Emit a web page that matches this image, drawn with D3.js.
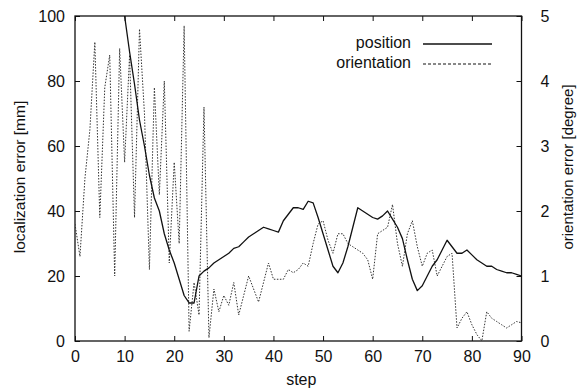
<!DOCTYPE html>
<html>
<head>
<meta charset="utf-8">
<script src="https://cdn.jsdelivr.net/npm/d3@7/dist/d3.min.js"></script>
<style>
  html, body { margin: 0; padding: 0; background: #fff; }
  svg { display: block; font-family: "Liberation Sans", Arial, sans-serif; }
</style>
</head>
<body>
<svg id="chart" width="581" height="392"></svg>
<script>
// Localization error per step: position [mm] on the left axis,
// orientation [degree] on the right axis.
const positionStart = 10; // first step with a position sample inside the plot
const positionError = [
  100, 89, 79, 68, 60, 51, 44, 40, 33, 28,
  24, 19, 14, 11.7, 11.7, 20, 21.5, 22.5, 24, 25,
  26, 27, 28.5, 29, 30.5, 32, 33, 34, 35, 34.5,
  34, 33.5, 37, 39, 41, 41, 40.5, 43, 42.5, 38,
  33, 28, 23, 21, 24, 29, 35, 41, 40, 39,
  38, 37.5, 38.5, 40, 37.5, 35, 31.5, 25, 19, 15.5,
  17, 20, 23, 25, 28, 31, 29, 27, 27, 28,
  26.5, 25, 24, 23, 23, 22, 21.5, 21, 21, 20.5,
  20
];
const orientationError = [
  1.8, 1.3, 2.5, 3.25, 4.6, 1.9, 3.9, 4.4, 1.0, 4.5,
  2.75, 4.4, 1.9, 4.8, 3.5, 1.1, 3.9, 2.25, 4.0, 1.2,
  2.75, 1.5, 4.85, 0.15, 0.9, 0.4, 3.6, 0.05, 0.8, 0.45,
  0.7, 0.55, 0.9, 0.4, 0.7, 1.0, 0.8, 0.6, 0.9, 1.2,
  0.95, 0.95, 0.95, 1.1, 1.05, 1.1, 1.2, 1.15, 1.5, 1.8,
  1.85, 1.55, 1.35, 1.65, 1.65, 1.5, 1.45, 1.4, 1.35, 1.25,
  0.95, 1.65, 1.7, 1.75, 2.1, 1.5, 1.15, 1.65, 1.85, 1.45,
  1.15, 1.35, 1.4, 1.0, 1.15, 1.3, 1.35, 0.2, 0.35, 0.45,
  0.25, 0.1, 0, 0.45, 0.35, 0.3, 0.25, 0.2, 0.25, 0.3,
  0.28
];
const stepTicks = [0, 10, 20, 30, 40, 50, 60, 70, 80, 90];
const mmTicks = [0, 20, 40, 60, 80, 100];
const degreeTicks = [0, 1, 2, 3, 4, 5];
const seriesNames = ["position", "orientation"];

const svg = d3.select("#chart");
const plotLeft = 75, plotRight = 521.5, plotTop = 16, plotBottom = 341;
const ink = "#111";

const x = d3.scaleLinear().domain([0, 90]).range([plotLeft, plotRight]);
const yMm = d3.scaleLinear().domain([0, 100]).range([plotBottom, plotTop]);
const yDeg = d3.scaleLinear().domain([0, 5]).range([plotBottom, plotTop]);

svg.append("defs").append("clipPath").attr("id", "plot-clip")
  .append("rect").attr("x", plotLeft).attr("y", plotTop)
  .attr("width", plotRight - plotLeft).attr("height", plotBottom - plotTop);

// Axes with inward ticks on all four sides
const tickLen = 5;
const fs = "16px";

const gB = svg.append("g").attr("transform", `translate(0,${plotBottom})`)
  .call(d3.axisBottom(x).tickValues(stepTicks).tickFormat(d3.format("d"))
    .tickSizeInner(-tickLen).tickSizeOuter(0).tickPadding(10));
const gT = svg.append("g").attr("transform", `translate(0,${plotTop})`)
  .call(d3.axisTop(x).tickValues(stepTicks).tickSizeInner(-tickLen).tickSizeOuter(0).tickFormat(""));
const gL = svg.append("g").attr("transform", `translate(${plotLeft},0)`)
  .call(d3.axisLeft(yMm).tickValues(mmTicks).tickFormat(d3.format("d"))
    .tickSizeInner(-tickLen).tickSizeOuter(0).tickPadding(10));
const gR = svg.append("g").attr("transform", `translate(${plotRight},0)`)
  .call(d3.axisRight(yDeg).tickValues(degreeTicks).tickFormat(d3.format("d"))
    .tickSizeInner(-tickLen).tickSizeOuter(0).tickPadding(19));

[gB, gT, gL, gR].forEach(g => {
  g.select(".domain").remove();
  g.selectAll("line").attr("stroke", ink).attr("stroke-width", 1);
  g.selectAll("text").attr("fill", ink).style("font-size", fs)
    .style("font-family", '"Liberation Sans", Arial, sans-serif');
});

// Frame
svg.append("rect").attr("x", plotLeft).attr("y", plotTop)
  .attr("width", plotRight - plotLeft).attr("height", plotBottom - plotTop)
  .attr("fill", "none").attr("stroke", ink).attr("stroke-width", 1.3);

// Axis titles
svg.append("text").attr("x", (plotLeft + plotRight) / 2 + 3).attr("y", 385)
  .attr("text-anchor", "middle").attr("fill", ink).style("font-size", fs)
  .text("step");
svg.append("text").attr("transform", "translate(20,177) rotate(-90)")
  .attr("text-anchor", "middle").attr("dy", "0.35em").attr("fill", ink)
  .style("font-size", "15.5px").text("localization error [mm]");
svg.append("text").attr("transform", "translate(568,167) rotate(-90)")
  .attr("text-anchor", "middle").attr("dy", "0.35em").attr("fill", ink)
  .style("font-size", "15px").text("orientation error [degree]");

// Series
const plot = svg.append("g").attr("clip-path", "url(#plot-clip)");

const orientLine = d3.line().x((d, i) => x(i)).y(d => yDeg(d));
plot.append("path").datum(orientationError)
  .attr("d", orientLine)
  .attr("fill", "none").attr("stroke", "#333").attr("stroke-width", 1)
  .attr("stroke-dasharray", "1.5,1.5");

const posLine = d3.line().x((d, i) => x(i + positionStart)).y(d => yMm(d));
plot.append("path").datum(positionError)
  .attr("d", posLine)
  .attr("fill", "none").attr("stroke", ink).attr("stroke-width", 1.3)
  .attr("stroke-linejoin", "round");

// Legend
const legend = svg.append("g");
const legendRows = [
  { name: seriesNames[0], y: 48, dash: null, w: 1.3 },
  { name: seriesNames[1], y: 68, dash: "3,2", w: 1 }
];
legendRows.forEach(r => {
  legend.append("text").attr("x", 411).attr("y", r.y)
    .attr("text-anchor", "end").attr("fill", ink).style("font-size", fs).text(r.name);
  legend.append("line").attr("x1", 423).attr("x2", 492)
    .attr("y1", r.y - 4).attr("y2", r.y - 4)
    .attr("stroke", ink).attr("stroke-width", r.w)
    .attr("stroke-dasharray", r.dash);
});
</script>
</body>
</html>
